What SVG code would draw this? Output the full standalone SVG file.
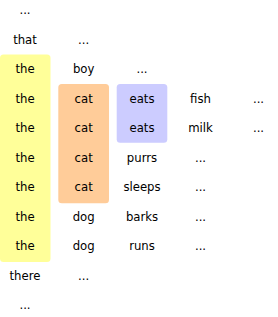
<svg xmlns="http://www.w3.org/2000/svg" width="278" height="317" viewBox="0 0 278 317">
<style>
text{font-family:"DejaVu Sans",sans-serif;font-size:11.7px;fill:#000;text-anchor:middle}
.y{fill:#ffff99}.o{fill:#ffcc99}.b{fill:#ccccff}
</style>
<rect width="278" height="317" fill="#fff"/>
<g id="highlights">
<rect id="box-the" class="y" x="0" y="54.5" width="50.5" height="207.5" rx="3.5"/>
<rect id="box-cat" class="o" x="58.3" y="84" width="50.7" height="119.3" rx="3.5"/>
<rect id="box-eats" class="b" x="116.7" y="84" width="50.6" height="58.7" rx="3.5"/>
</g>
<g id="col1">
<text x="25" y="14.2">...</text>
<text x="25" y="43.7">that</text>
<text x="25" y="73.2">the</text>
<text x="25" y="102.7">the</text>
<text x="25" y="132.2">the</text>
<text x="25" y="161.7">the</text>
<text x="25" y="191.2">the</text>
<text x="25" y="220.7">the</text>
<text x="25" y="250.2">the</text>
<text x="25" y="279.7">there</text>
<text x="25" y="309.2">...</text>
</g>
<g id="col2">
<text x="83.7" y="43.7">...</text>
<text x="83.7" y="73.2">boy</text>
<text x="83.7" y="102.7">cat</text>
<text x="83.7" y="132.2">cat</text>
<text x="83.7" y="161.7">cat</text>
<text x="83.7" y="191.2">cat</text>
<text x="83.7" y="220.7">dog</text>
<text x="83.7" y="250.2">dog</text>
<text x="83.7" y="279.7">...</text>
</g>
<g id="col3">
<text x="142" y="73.2">...</text>
<text x="142" y="102.7">eats</text>
<text x="142" y="132.2">eats</text>
<text x="142" y="161.7">purrs</text>
<text x="142" y="191.2">sleeps</text>
<text x="142" y="220.7">barks</text>
<text x="142" y="250.2">runs</text>
</g>
<g id="col4">
<text x="200.5" y="102.7">fish</text>
<text x="200.5" y="132.2">milk</text>
<text x="200.5" y="161.7">...</text>
<text x="200.5" y="191.2">...</text>
<text x="200.5" y="220.7">...</text>
<text x="200.5" y="250.2">...</text>
</g>
<g id="col5">
<text x="258.5" y="102.7">...</text>
<text x="258.5" y="132.2">...</text>
</g>
</svg>
